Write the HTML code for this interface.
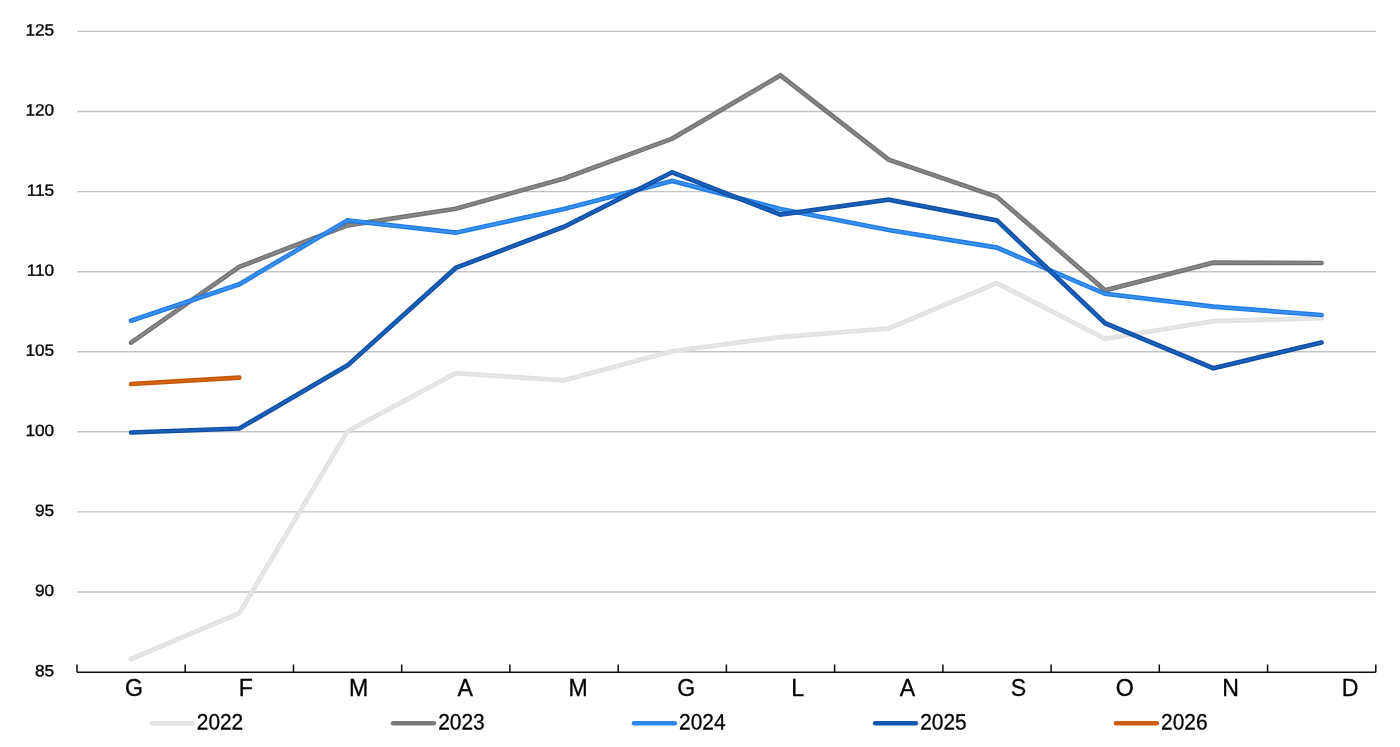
<!DOCTYPE html>
<html lang="it">
<head>
<meta charset="utf-8">
<title>Grafico</title>
<style>
html,body{margin:0;padding:0;background:#fff;}
body{width:1400px;height:747px;overflow:hidden;}
svg{display:block;}
text{font-family:"Liberation Sans",sans-serif;fill:#000;stroke:#000;stroke-width:0.3px;}
.yl{font-size:16.3px;text-anchor:end;}
.xl{font-size:23.1px;text-anchor:middle;}
.lg{font-size:22.2px;text-anchor:start;}
.grid line{stroke:#c3c3c3;stroke-width:1.4;}
.axis{stroke:#0a0a0a;stroke-width:1.5;fill:none;stroke-linejoin:round;}
.s{fill:none;stroke-linecap:round;stroke-linejoin:miter;stroke-miterlimit:10;}
</style>
</head>
<body>
<svg width="1400" height="747" viewBox="0 0 1400 747">
<rect x="0" y="0" width="1400" height="747" fill="#ffffff"/>

<g class="grid">
<line x1="77" y1="31.4" x2="1376" y2="31.4"/>
<line x1="77" y1="111.5" x2="1376" y2="111.5"/>
<line x1="77" y1="191.6" x2="1376" y2="191.6"/>
<line x1="77" y1="271.7" x2="1376" y2="271.7"/>
<line x1="77" y1="351.8" x2="1376" y2="351.8"/>
<line x1="77" y1="431.8" x2="1376" y2="431.8"/>
<line x1="77" y1="511.9" x2="1376" y2="511.9"/>
<line x1="77" y1="592.0" x2="1376" y2="592.0"/>
</g>
<g class="s"><polyline points="131.1,659.0 239.3,613.1 347.5,431.3 455.8,373.2 564.0,380.3 672.2,351.2 780.4,337.1 888.6,328.5 996.8,283.1 1105.1,338.8 1213.3,321.1 1321.5,318.2" stroke="#e0e0e0" stroke-width="4.7"/><polyline points="131.1,659.0 239.3,613.1 347.5,431.3 455.8,373.2 564.0,380.3 672.2,351.2 780.4,337.1 888.6,328.5 996.8,283.1 1105.1,338.8 1213.3,321.1 1321.5,318.2" stroke="#e6e6e6" stroke-width="2"/></g>
<g class="s"><polyline points="131.1,342.6 239.3,266.8 347.5,225.4 455.8,208.7 564.0,178.5 672.2,138.6 780.4,75.4 888.6,159.7 996.8,196.8 1105.1,290.3 1213.3,262.6 1321.5,263.0" stroke="#727272" stroke-width="4.7"/><polyline points="131.1,342.6 239.3,266.8 347.5,225.4 455.8,208.7 564.0,178.5 672.2,138.6 780.4,75.4 888.6,159.7 996.8,196.8 1105.1,290.3 1213.3,262.6 1321.5,263.0" stroke="#878787" stroke-width="2"/></g>
<g class="s"><polyline points="131.1,320.7 239.3,284.3 347.5,220.3 455.8,232.7 564.0,209.0 672.2,180.9 780.4,209.0 888.6,230.0 996.8,247.6 1105.1,293.8 1213.3,306.7 1321.5,315.0" stroke="#1f7be3" stroke-width="4.7"/><polyline points="131.1,320.7 239.3,284.3 347.5,220.3 455.8,232.7 564.0,209.0 672.2,180.9 780.4,209.0 888.6,230.0 996.8,247.6 1105.1,293.8 1213.3,306.7 1321.5,315.0" stroke="#3a92ee" stroke-width="2"/></g>
<g class="s"><polyline points="131.1,432.5 239.3,428.5 347.5,365.4 455.8,267.9 564.0,226.8 672.2,172.2 780.4,214.6 888.6,199.6 996.8,220.4 1105.1,323.2 1213.3,368.2 1321.5,342.5" stroke="#0d4da6" stroke-width="4.7"/><polyline points="131.1,432.5 239.3,428.5 347.5,365.4 455.8,267.9 564.0,226.8 672.2,172.2 780.4,214.6 888.6,199.6 996.8,220.4 1105.1,323.2 1213.3,368.2 1321.5,342.5" stroke="#1c62b8" stroke-width="2"/></g>
<g class="s"><polyline points="131.1,384.0 239.3,377.7" stroke="#c4540e" stroke-width="4.7"/><polyline points="131.1,384.0 239.3,377.7" stroke="#d4660f" stroke-width="2"/></g>
<path class="axis" d="M77 672.2 H1375.8 M77.0 672.2 V664.6 M185.2 672.2 V664.6 M293.5 672.2 V664.6 M401.7 672.2 V664.6 M509.9 672.2 V664.6 M618.2 672.2 V664.6 M726.4 672.2 V664.6 M834.6 672.2 V664.6 M942.9 672.2 V664.6 M1051.1 672.2 V664.6 M1159.3 672.2 V664.6 M1267.6 672.2 V664.6 M1375.8 672.2 V664.6"/>
<g class="yl">
<text transform="translate(54.2 35.5) rotate(0.03) scale(1.06 1)">125</text>
<text transform="translate(54.2 115.6) rotate(0.03) scale(1.06 1)">120</text>
<text transform="translate(54.2 195.7) rotate(0.03) scale(1.06 1)">115</text>
<text transform="translate(54.2 275.7) rotate(0.03) scale(1.06 1)">110</text>
<text transform="translate(54.2 355.8) rotate(0.03) scale(1.06 1)">105</text>
<text transform="translate(54.2 435.9) rotate(0.03) scale(1.06 1)">100</text>
<text transform="translate(54.2 516.0) rotate(0.03) scale(1.06 1)">95</text>
<text transform="translate(54.2 596.1) rotate(0.03) scale(1.06 1)">90</text>
<text transform="translate(54.2 676.3) rotate(0.03) scale(1.06 1)">85</text>
</g>
<g class="xl">
<text x="134.1" y="696.1">G</text>
<text x="245.8" y="696.1">F</text>
<text x="358.5" y="696.1">M</text>
<text x="465.1" y="696.1">A</text>
<text x="578" y="696.1">M</text>
<text x="686.3" y="696.1">G</text>
<text x="797.6" y="696.1">L</text>
<text x="907.4" y="696.1">A</text>
<text x="1018.5" y="696.1">S</text>
<text x="1124.7" y="696.1">O</text>
<text x="1230.7" y="696.1">N</text>
<text x="1350" y="696.1">D</text>
</g>
<g class="s">
<line x1="151.7" y1="723.3" x2="192.5" y2="723.3" stroke="#e3e3e3" stroke-width="4.6"/>
<line x1="393.1" y1="723.3" x2="433.9" y2="723.3" stroke="#7a7a7a" stroke-width="4.6"/>
<line x1="634.0" y1="723.3" x2="674.8" y2="723.3" stroke="#2b86ea" stroke-width="4.6"/>
<line x1="875.1" y1="723.3" x2="915.9" y2="723.3" stroke="#1457b0" stroke-width="4.6"/>
<line x1="1116.0" y1="723.3" x2="1156.8" y2="723.3" stroke="#cc5c0e" stroke-width="4.6"/>
</g>
<g class="lg">
<text transform="translate(196.8 729.4) rotate(0.03) scale(0.94 1)">2022</text>
<text transform="translate(438.2 729.4) rotate(0.03) scale(0.94 1)">2023</text>
<text transform="translate(679.1 729.4) rotate(0.03) scale(0.94 1)">2024</text>
<text transform="translate(920.2 729.4) rotate(0.03) scale(0.94 1)">2025</text>
<text transform="translate(1161.1 729.4) rotate(0.03) scale(0.94 1)">2026</text>
</g>
</svg>
</body>
</html>
